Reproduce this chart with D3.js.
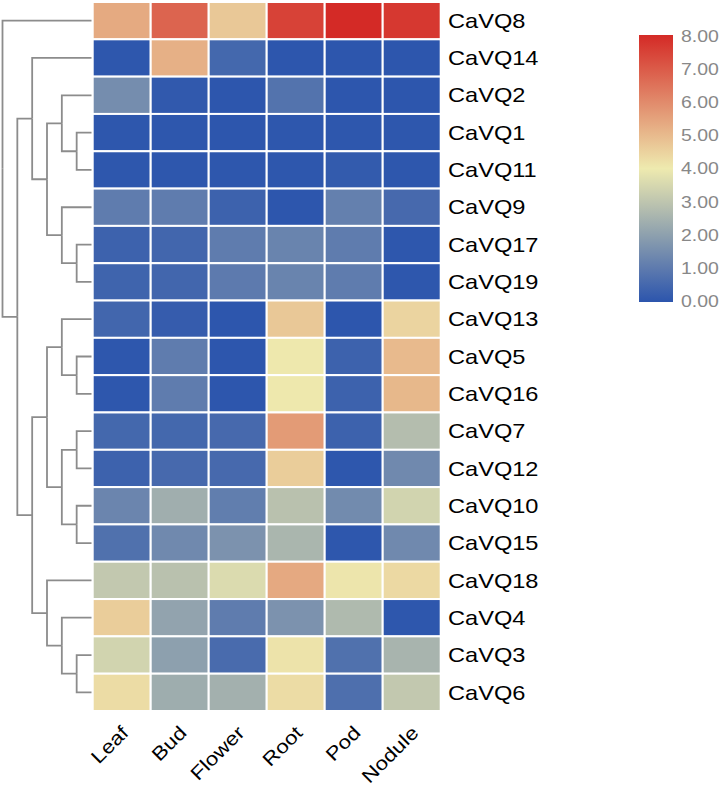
<!DOCTYPE html>
<html>
<head>
<meta charset="utf-8">
<script src="https://cdn.jsdelivr.net/npm/d3@7"></script>
<style>
  body { margin: 0; background: #fff; }
  text { font-family: Arial, "Liberation Sans", sans-serif; }
</style>
</head>
<body>
<script>
// tissues (columns) and genes (rows, in dendrogram order)
const tissues = ["Leaf", "Bud", "Flower", "Root", "Pod", "Nodule"];
const genes = ["CaVQ8", "CaVQ14", "CaVQ2", "CaVQ1", "CaVQ11", "CaVQ9", "CaVQ17", "CaVQ19",
  "CaVQ13", "CaVQ5", "CaVQ16", "CaVQ7", "CaVQ12", "CaVQ10", "CaVQ15", "CaVQ18",
  "CaVQ4", "CaVQ3", "CaVQ6"];

// expression values, one row per gene, columns as in tissues
const expression = [
  [5.33, 6.80, 4.70, 7.50, 8.00, 7.70],
  [0.05, 5.20, 0.50, 0.02, 0.02, 0.02],
  [1.50, 0.10, 0.02, 0.80, 0.02, 0.02],
  [0.05, 0.05, 0.02, 0.05, 0.05, 0.05],
  [0.05, 0.05, 0.05, 0.05, 0.15, 0.05],
  [1.05, 1.05, 0.35, 0.02, 1.15, 0.55],
  [0.35, 0.45, 1.05, 1.25, 1.05, 0.05],
  [0.40, 0.45, 1.00, 1.25, 1.05, 0.05],
  [0.45, 0.20, 0.02, 4.70, 0.02, 4.45],
  [0.05, 1.05, 0.02, 4.05, 0.35, 5.00],
  [0.05, 1.05, 0.02, 4.05, 0.35, 5.05],
  [0.50, 0.50, 0.55, 5.65, 0.35, 2.80],
  [0.35, 0.55, 0.55, 4.60, 0.05, 1.40],
  [1.30, 2.40, 1.10, 2.90, 1.45, 3.40],
  [0.75, 1.40, 1.65, 2.60, 0.05, 1.40],
  [3.10, 2.90, 3.60, 5.35, 4.10, 4.35],
  [4.60, 2.10, 1.05, 1.65, 2.70, 0.05],
  [3.40, 2.00, 0.60, 4.15, 0.75, 2.55],
  [4.30, 2.35, 2.45, 4.30, 0.70, 3.10]
];

// row clustering as nested pairs
const clusters = ["CaVQ8",
  [["CaVQ14", [["CaVQ2", ["CaVQ1", "CaVQ11"]], ["CaVQ9", ["CaVQ17", "CaVQ19"]]]],
   [[["CaVQ13", ["CaVQ5", "CaVQ16"]], [["CaVQ7", "CaVQ12"], ["CaVQ10", "CaVQ15"]]],
    ["CaVQ18", ["CaVQ4", ["CaVQ3", "CaVQ6"]]]]]];

// colour bar
const legendTicks = [0, 1, 2, 3, 4, 5, 6, 7, 8];
const colourStops = ["#2c55ad", "#eeeaaf", "#d42a26"];

window.onload = function() {
  const w = 724;
  const h = 786;
  const stretch = 1.18;

  let svg = d3.select("body")
            .append("svg")
            .attr("width", w)
            .attr("height", h);

  // scales for the cells
  let xScale = d3.scaleBand()
            .domain(tissues)
            .range([92.7, 440.7]);
  let yScale = d3.scaleBand()
            .domain(genes)
            .range([2, 711]);
  let colour = d3.scaleLinear()
            .domain([0, 4, 8])
            .range(colourStops)
            .interpolate(d3.interpolateRgb)
            .clamp(true);

  // flatten the matrix into cells
  let cells = [];
  genes.forEach(function(gene, i) {
    tissues.forEach(function(tissue, j) {
      cells.push([tissue, gene, expression[i][j]]);
    });
  });

  svg.selectAll("rect.cell")
     .data(cells)
     .enter()
     .append("rect")
     .attr("class", "cell")
     .attr("x", function(d) { return xScale(d[0]) })
     .attr("y", function(d) { return yScale(d[1]) })
     .attr("width", xScale.bandwidth())
     .attr("height", yScale.bandwidth())
     .attr("fill", function(d) { return colour(d[2]) })
     .attr("stroke", "#fff")
     .attr("stroke-width", 2);

  // row labels
  svg.selectAll("text.row")
     .data(genes)
     .enter()
     .append("text")
     .attr("class", "row")
     .attr("transform", function(d) {
       return "translate(448," + (yScale(d) + yScale.bandwidth() / 2) + ") scale(" + stretch + ",1)";
     })
     .attr("dy", "0.36em")
     .style("font-size", "20px")
     .style("fill", "#000")
     .text(function(d) { return d });

  // column labels, rotated
  svg.selectAll("text.col")
     .data(tissues)
     .enter()
     .append("text")
     .attr("class", "col")
     .attr("transform", function(d) {
       return "translate(" + (xScale(d) + xScale.bandwidth() / 2 + 8) + ",734) rotate(-45) scale(" + stretch + ",1)";
     })
     .style("text-anchor", "end")
     .style("font-size", "19px")
     .style("fill", "#000")
     .text(function(d) { return d });

  // dendrogram: leaves on the row centres, parents halfway between children
  let root = d3.hierarchy(clusters, function(d) { return Array.isArray(d) ? d : null });
  let depthScale = d3.scaleLinear()
            .domain([root.height, 0])
            .range([2.5, 91.5]);
  root.eachAfter(function(node) {
    node.px = depthScale(node.height);
    if (node.children) {
      node.py = (node.children[0].py + node.children[node.children.length - 1].py) / 2;
    } else {
      node.py = yScale(node.data) + yScale.bandwidth() / 2;
    }
  });

  svg.append("g")
     .selectAll("path")
     .data(root.links())
     .enter()
     .append("path")
     .attr("d", function(d) {
       return "M" + d.source.px + "," + d.source.py + "V" + d.target.py + "H" + d.target.px;
     })
     .attr("fill", "none")
     .attr("stroke", "#8c8c8c")
     .attr("stroke-width", 1.8);

  // colour bar with gradient
  let legendScale = d3.scaleLinear()
            .domain([0, 8])
            .range([301, 36]);
  let grad = svg.append("defs")
     .append("linearGradient")
     .attr("id", "bar")
     .attr("x1", 0).attr("y1", 1)
     .attr("x2", 0).attr("y2", 0);
  grad.selectAll("stop")
      .data(legendTicks)
      .enter()
      .append("stop")
      .attr("offset", function(d) { return d / 8 })
      .attr("stop-color", function(d) { return colour(d) });

  svg.append("rect")
     .attr("x", 639)
     .attr("y", legendScale(8) - 1)
     .attr("width", 34)
     .attr("height", legendScale(0) - legendScale(8) + 2)
     .attr("fill", "url(#bar)");

  svg.selectAll("text.tick")
     .data(legendTicks)
     .enter()
     .append("text")
     .attr("class", "tick")
     .attr("transform", function(d) {
       return "translate(681," + legendScale(d) + ") scale(" + stretch + ",1)";
     })
     .attr("dy", "0.36em")
     .style("font-size", "16.5px")
     .style("fill", "#888")
     .text(function(d) { return d3.format(".2f")(d) });
};
</script>
</body>
</html>
